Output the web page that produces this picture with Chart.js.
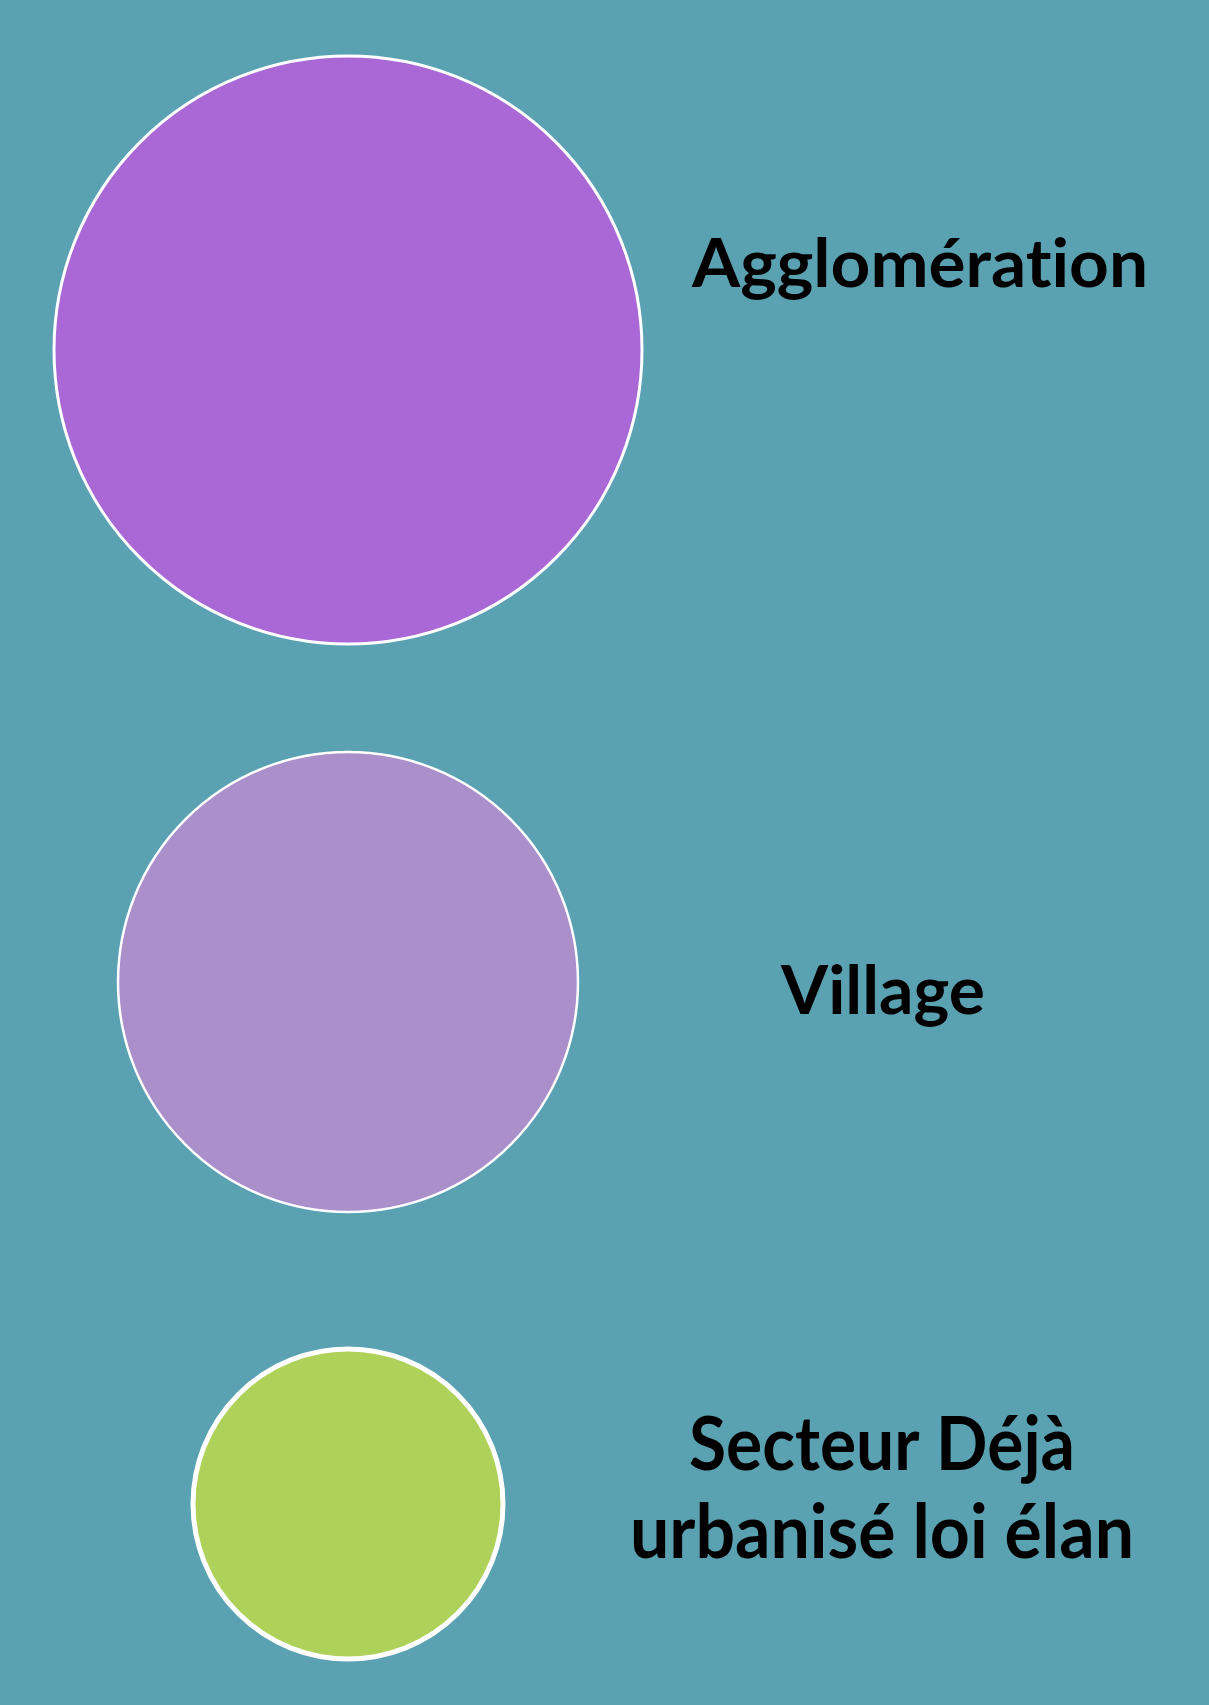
<!DOCTYPE html>
<html>
<head>
<meta charset="utf-8">
<script src="https://cdn.jsdelivr.net/npm/chart.js@4.4.1/dist/chart.umd.min.js"></script>
<style>
  html, body { margin: 0; padding: 0; background: #5AA1B2; }
  #wrap { width: 1209px; height: 1705px; position: relative; }
</style>
</head>
<body>
<div id="wrap"><canvas id="chart"></canvas></div>
<script>
// Categories, top to bottom
const categories = ['Agglomération', 'Village', ['Secteur Déjà', 'urbanisé loi élan']];
// Circle size (radius, in pixels of the original picture)
const sizes = [294, 230, 155];
// Vertical level of each circle on the y axis (0 = top, 1705 = bottom)
const levels = [350, 982, 1504];

// Styles kept apart from the data
const fillColors = ['#A968D6', '#AB8FCA', '#AED15A'];
const borderWidths = [3, 2.5, 5];
const CIRCLE_X = 348;
// label layout: centre x, baseline of first line, line gap, font size, target widths
const labelStyle = [
    { x: 920, baseline: 287, size: 66, widths: [456] },
    { x: 883, baseline: 1014, size: 67, widths: [204] },
    { x: 882, baseline: 1470, size: 75, gap: 88, widths: [386, 504] }
];

const labelPlugin = {
    id: 'sideLabels',
    afterDatasetsDraw(chart) {
        const ctx = chart.ctx;
        const xs = chart.scales.x, ys = chart.scales.y;
        const meta = chart.getDatasetMeta(0);
        meta.data.forEach((pt, i) => {
            const st = labelStyle[i];
            const lines = Array.isArray(categories[i]) ? categories[i] : [categories[i]];
            ctx.save();
            ctx.fillStyle = '#000000';
            ctx.font = 'bold ' + st.size + 'px Lato, "Open Sans", sans-serif';
            ctx.letterSpacing = '0.01px'; // keeps "ti" from joining into a ligature
            ctx.textAlign = 'center';
            ctx.textBaseline = 'alphabetic';
            lines.forEach((line, j) => {
                const cx = xs.getPixelForValue(st.x);
                const by = ys.getPixelForValue(st.baseline + j * (st.gap || 0));
                const w = ctx.measureText(line).width;
                ctx.save();
                ctx.translate(cx, by);
                ctx.scale(st.widths[j] / w, 1);
                ctx.fillText(line, 0, 0);
                ctx.restore();
            });
            ctx.restore();
        });
    }
};

new Chart(document.getElementById('chart'), {
    type: 'bubble',
    data: {
        labels: categories.map(c => Array.isArray(c) ? c.join(' ') : c),
        datasets: [{
            data: sizes.map((s, i) => ({ x: CIRCLE_X, y: levels[i], r: s })),
            backgroundColor: fillColors,
            borderColor: '#FFFFFF',
            borderWidth: borderWidths,
            clip: false
        }]
    },
    options: {
        responsive: true,
        maintainAspectRatio: false,
        animation: false,
        events: [],
        layout: { padding: 0, autoPadding: false },
        plugins: { legend: { display: false }, tooltip: { enabled: false } },
        scales: {
            x: { type: 'linear', min: 0, max: 1209, display: false },
            y: { type: 'linear', min: 0, max: 1705, reverse: true, display: false }
        }
    },
    plugins: [labelPlugin]
});
</script>
</body>
</html>
